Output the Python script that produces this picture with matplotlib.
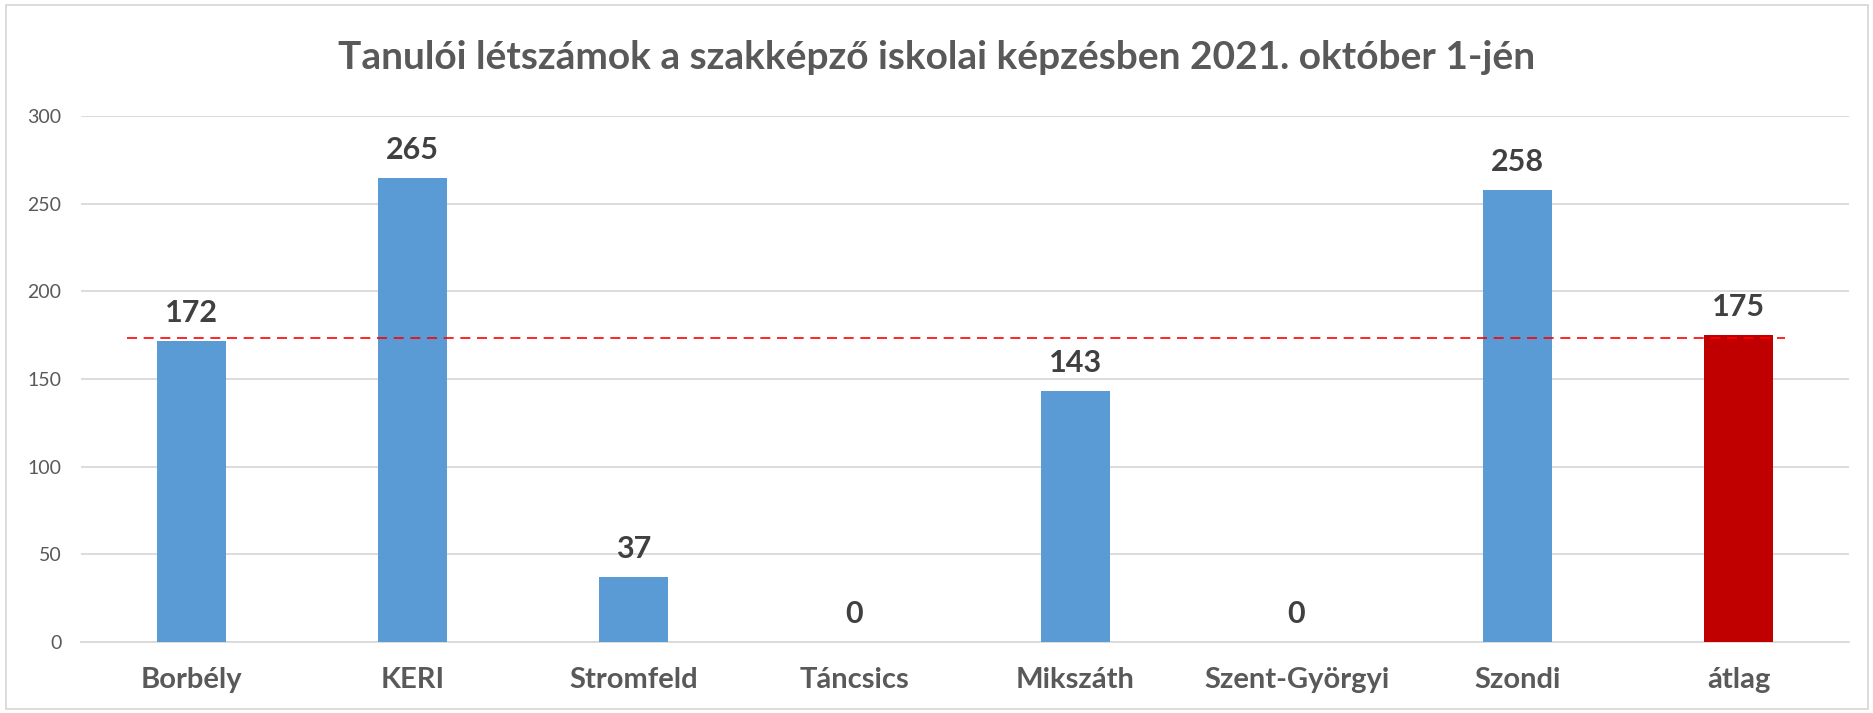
import matplotlib.pyplot as plt
from matplotlib.patches import Rectangle

# adatok
iskolak = ["Borbély", "KERI", "Stromfeld", "Táncsics", "Mikszáth",
           "Szent-Györgyi", "Szondi", "átlag"]
letszam = [172, 265, 37, 0, 143, 0, 258, 175]
atlag_vonal = 173.5
cim = "Tanulói létszámok a szakképző iskolai képzésben 2021. október 1-jén"

plt.rcParams['font.family'] = ['Lato', 'DejaVu Sans']

fig = plt.figure(figsize=(18.74, 7.13), dpi=100)
ax = fig.add_axes([0.0432, 0.0996, 0.9435, 0.7374])

szinek = ["#5B9BD5"] * (len(iskolak) - 1) + ["#C00000"]
x = range(len(iskolak))
bars = ax.bar(x, letszam, width=0.31, color=szinek, zorder=3)

for i, v in enumerate(letszam):
    ax.annotate(str(v), (i, v), xytext=(0, 10), textcoords="offset points",
                ha="center", va="bottom", fontsize=22, fontweight="bold",
                color="#404040")

# átlag szaggatott vonal
ax.plot([-0.29, 7.21], [atlag_vonal, atlag_vonal], linestyle=(0, (6, 4)),
        color="#FF0000", linewidth=1.2, zorder=4)

ax.set_xlim(-0.5, len(iskolak) - 0.5)
ax.set_ylim(0, 300)
ax.set_yticks(range(0, 301, 50))
ax.set_xticks(list(x))
ax.set_xticklabels(iskolak, fontsize=21, fontweight="bold", color="#595959")
ax.tick_params(axis="y", labelsize=14, labelcolor="#595959", length=0, pad=14)
ax.tick_params(axis="x", length=0, pad=18)
ax.grid(axis="y", color="#D9D9D9", linewidth=1.3, zorder=0)
for s in ["top", "right", "left"]:
    ax.spines[s].set_visible(False)
ax.spines["bottom"].set_color("#D9D9D9")
ax.spines["bottom"].set_linewidth(1.3)

fig.text(0.5, 0.92, cim, ha="center", va="center", fontsize=28,
         fontweight="bold", color="#595959")

fig.patches.append(Rectangle((0.003, 0.006), 0.994, 0.987, transform=fig.transFigure,
                             fill=False, edgecolor="#D9D9D9", linewidth=1.3))

fig.savefig("out.png", dpi=100)
